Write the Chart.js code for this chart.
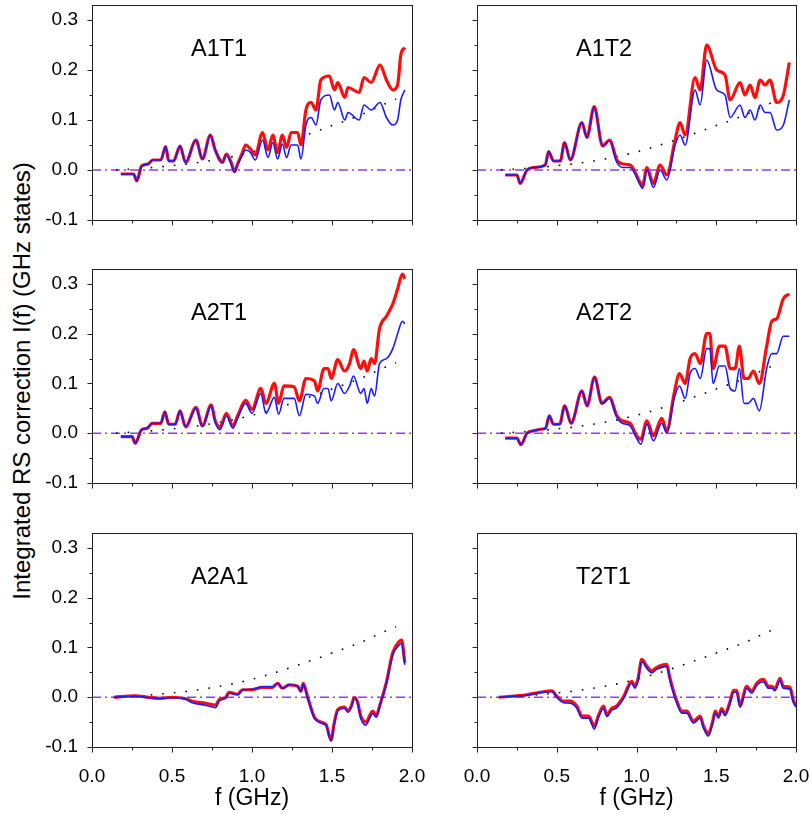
<!DOCTYPE html>
<html>
<head>
<meta charset="utf-8">
<script src="https://cdn.jsdelivr.net/npm/chart.js@4/dist/chart.umd.min.js"></script>
<style>
  body { margin: 0; background: #fff; }
  #wrap { position: relative; width: 811px; height: 814px; overflow: hidden; }
  #wrap canvas { position: absolute; }
  #ytitle {
    position: absolute; left: 22px; top: 381px;
    transform: translate(-50%, -50%) rotate(-90deg);
    font: 24px "Liberation Sans", Arial, sans-serif; line-height: 1;
    white-space: nowrap; color: #000;
  }
</style>
</head>
<body>
<div id="wrap"><div id="ytitle">Integrated RS correction I(f) (GHz states)</div></div>
<script>
// tick values
const xTicks = [0, 0.5, 1.0, 1.5, 2.0];
const xMinor = [0.25, 0.75, 1.25, 1.75];
const yTicks = [-0.1, 0.0, 0.1, 0.2, 0.3];
const yMinor = [-0.05, 0.05, 0.15, 0.25];

// dotted reference curve (same in every panel)
const fRef = [0.15, 0.3, 0.45, 0.6, 0.75, 0.9, 1.0, 1.1, 1.2, 1.3, 1.4, 1.5, 1.6, 1.7, 1.8, 1.9];
const vRef = [0.0, 0.003, 0.007, 0.012, 0.019, 0.028, 0.036, 0.045, 0.055, 0.066, 0.077, 0.089, 0.100, 0.113, 0.128, 0.142];

// A1T1
const fA1T1 = [0.18, 0.26, 0.28, 0.31, 0.35, 0.38, 0.43, 0.46, 0.48, 0.51, 0.55, 0.585, 0.65, 0.69, 0.74, 0.77, 0.815, 0.84, 0.87, 0.89,
  0.91, 0.94, 0.96, 0.99, 1.02, 1.066, 1.10, 1.13, 1.16, 1.19, 1.216, 1.245, 1.285, 1.306, 1.337, 1.37, 1.40, 1.43, 1.484, 1.515,
  1.536, 1.58, 1.60, 1.67, 1.70, 1.745, 1.80, 1.84, 1.88, 1.91, 1.93, 1.955];
const rA1T1 = [-0.008, -0.008, -0.022, 0.008, 0.012, 0.02, 0.02, 0.047, 0.018, 0.018, 0.048, 0.015, 0.06, 0.022, 0.07, 0.04, 0.015, 0.032, 0.015, -0.003,
  0.012, 0.035, 0.05, 0.042, 0.03, 0.075, 0.04, 0.07, 0.035, 0.07, 0.045, 0.075, 0.075, 0.05, 0.12, 0.135, 0.12, 0.18, 0.188, 0.16,
  0.175, 0.145, 0.165, 0.155, 0.185, 0.175, 0.21, 0.18, 0.16, 0.17, 0.23, 0.245];
const bA1T1 = [-0.008, -0.008, -0.022, 0.008, 0.012, 0.02, 0.02, 0.047, 0.018, 0.018, 0.048, 0.015, 0.06, 0.022, 0.07, 0.04, 0.015, 0.03, 0.012, -0.005,
  0.01, 0.03, 0.04, 0.035, 0.02, 0.06, 0.025, 0.055, 0.022, 0.052, 0.025, 0.05, 0.05, 0.022, 0.09, 0.105, 0.09, 0.14, 0.15, 0.12,
  0.135, 0.10, 0.115, 0.10, 0.13, 0.12, 0.135, 0.105, 0.09, 0.10, 0.14, 0.16];

// A1T2
const fA1T2 = [0.177, 0.25, 0.271, 0.313, 0.355, 0.428, 0.449, 0.48, 0.522, 0.549, 0.585, 0.658, 0.689, 0.735, 0.787, 0.831, 0.877, 0.914, 0.96, 1.023,
  1.038, 1.065, 1.106, 1.148, 1.19, 1.242, 1.273, 1.305, 1.367, 1.399, 1.44, 1.503, 1.555, 1.587, 1.649, 1.68, 1.712, 1.743, 1.775, 1.806,
  1.837, 1.879, 1.921, 1.958];
const rA1T2 = [-0.01, -0.01, -0.027, 0.0, 0.005, 0.01, 0.037, 0.018, 0.018, 0.055, 0.02, 0.095, 0.065, 0.127, 0.048, 0.06, 0.02, 0.012, 0.01, -0.025,
  -0.032, 0.005, -0.027, 0.01, -0.01, 0.06, 0.095, 0.07, 0.185, 0.16, 0.25, 0.2, 0.19, 0.14, 0.175, 0.15, 0.17, 0.145, 0.18, 0.17,
  0.18, 0.135, 0.15, 0.215];
const bA1T2 = [-0.01, -0.01, -0.027, 0.0, 0.005, 0.01, 0.037, 0.018, 0.018, 0.055, 0.02, 0.095, 0.065, 0.127, 0.048, 0.058, 0.015, 0.005, 0.005, -0.03,
  -0.037, 0.0, -0.035, 0.0, -0.02, 0.05, 0.07, 0.05, 0.16, 0.13, 0.22, 0.16, 0.15, 0.105, 0.13, 0.105, 0.12, 0.10, 0.13, 0.115,
  0.115, 0.08, 0.09, 0.14];

// A2T1
const fA2T1 = [0.18, 0.25, 0.27, 0.31, 0.345, 0.376, 0.43, 0.455, 0.48, 0.52, 0.55, 0.585, 0.65, 0.69, 0.745, 0.77, 0.80, 0.84, 0.88, 0.91,
  0.96, 1.0, 1.055, 1.087, 1.14, 1.166, 1.2, 1.264, 1.296, 1.337, 1.39, 1.41, 1.45, 1.475, 1.495, 1.536, 1.578, 1.61, 1.634, 1.68,
  1.70, 1.72, 1.745, 1.766, 1.797, 1.84, 1.88, 1.91, 1.94, 1.955];
const rA2T1 = [-0.007, -0.007, -0.02, 0.007, 0.01, 0.02, 0.02, 0.043, 0.018, 0.018, 0.045, 0.013, 0.052, 0.015, 0.057, 0.025, 0.012, 0.04, 0.015, 0.035,
  0.066, 0.048, 0.09, 0.06, 0.1, 0.06, 0.095, 0.093, 0.065, 0.11, 0.105, 0.085, 0.13, 0.13, 0.11, 0.148, 0.125, 0.14, 0.168, 0.13,
  0.145, 0.125, 0.15, 0.14, 0.21, 0.235, 0.26, 0.29, 0.32, 0.31];
const bA2T1 = [-0.007, -0.007, -0.02, 0.007, 0.01, 0.02, 0.02, 0.043, 0.018, 0.018, 0.045, 0.013, 0.05, 0.013, 0.055, 0.022, 0.007, 0.035, 0.01, 0.03,
  0.06, 0.04, 0.08, 0.04, 0.072, 0.038, 0.07, 0.07, 0.035, 0.078, 0.075, 0.06, 0.09, 0.09, 0.065, 0.10, 0.08, 0.095, 0.115, 0.08,
  0.09, 0.06, 0.09, 0.075, 0.14, 0.15, 0.17, 0.2, 0.225, 0.22];

// A2T2
const fA2T2 = [0.177, 0.25, 0.275, 0.313, 0.355, 0.40, 0.43, 0.453, 0.48, 0.518, 0.55, 0.59, 0.658, 0.69, 0.737, 0.783, 0.83, 0.877, 0.91, 0.96,
  1.0, 1.027, 1.065, 1.106, 1.158, 1.19, 1.236, 1.27, 1.305, 1.336, 1.367, 1.40, 1.44, 1.46, 1.48, 1.52, 1.555, 1.587, 1.618, 1.645,
  1.674, 1.70, 1.733, 1.77, 1.816, 1.848, 1.879, 1.92, 1.958];
const rA2T2 = [-0.01, -0.01, -0.023, 0.0, 0.005, 0.008, 0.01, 0.035, 0.018, 0.018, 0.055, 0.02, 0.085, 0.055, 0.113, 0.06, 0.072, 0.035, 0.025, 0.02,
  -0.005, -0.012, 0.025, -0.005, 0.03, 0.005, 0.08, 0.12, 0.1, 0.15, 0.16, 0.14, 0.2, 0.2, 0.13, 0.175, 0.175, 0.13, 0.13, 0.175,
  0.11, 0.11, 0.125, 0.1, 0.175, 0.225, 0.23, 0.27, 0.28];
const bA2T2 = [-0.01, -0.01, -0.023, 0.0, 0.005, 0.008, 0.01, 0.035, 0.018, 0.018, 0.055, 0.02, 0.085, 0.055, 0.113, 0.06, 0.07, 0.032, 0.02, 0.015,
  -0.01, -0.022, 0.018, -0.015, 0.02, 0.0, 0.07, 0.095, 0.07, 0.12, 0.13, 0.11, 0.17, 0.17, 0.1, 0.135, 0.135, 0.09, 0.085, 0.13,
  0.06, 0.06, 0.07, 0.045, 0.13, 0.16, 0.16, 0.195, 0.195];

// A2A1
const fA2A1 = [0.136, 0.27, 0.355, 0.42, 0.50, 0.585, 0.627, 0.71, 0.773, 0.794, 0.836, 0.857, 0.91, 0.94, 1.0, 1.066, 1.128, 1.16, 1.19, 1.233,
  1.285, 1.306, 1.32, 1.348, 1.39, 1.43, 1.463, 1.494, 1.515, 1.536, 1.578, 1.60, 1.62, 1.64, 1.66, 1.68, 1.71, 1.755, 1.776, 1.797,
  1.84, 1.88, 1.92, 1.935, 1.955];
const rA2A1 = [0.0, 0.003, 0.0, -0.002, 0.0, -0.003, -0.008, -0.012, -0.016, -0.005, 0.0, 0.01, 0.006, 0.015, 0.015, 0.02, 0.02, 0.028, 0.018, 0.025,
  0.022, 0.012, 0.028, 0.0, -0.04, -0.05, -0.055, -0.086, -0.05, -0.025, -0.02, -0.028, -0.018, 0.0, -0.01, -0.038, -0.05, -0.028, -0.038, -0.018,
  0.03, 0.09, 0.112, 0.115, 0.07];
const bA2A1 = [0.0, 0.002, -0.001, -0.003, -0.001, -0.004, -0.011, -0.016, -0.021, -0.008, -0.002, 0.008, 0.005, 0.014, 0.016, 0.021, 0.021, 0.028, 0.018, 0.025,
  0.022, 0.011, 0.026, -0.002, -0.042, -0.052, -0.057, -0.088, -0.052, -0.027, -0.022, -0.03, -0.02, -0.002, -0.012, -0.042, -0.056, -0.033, -0.04, -0.02,
  0.028, 0.085, 0.105, 0.108, 0.065];

// T2T1
const fT2T1 = [0.136, 0.313, 0.397, 0.47, 0.50, 0.543, 0.585, 0.626, 0.658, 0.70, 0.735, 0.762, 0.793, 0.814, 0.845, 0.873, 0.92, 0.97, 0.99, 1.01,
  1.033, 1.065, 1.096, 1.127, 1.19, 1.207, 1.232, 1.253, 1.284, 1.315, 1.357, 1.399, 1.42, 1.45, 1.478, 1.493, 1.514, 1.534, 1.555, 1.587,
  1.608, 1.628, 1.649, 1.691, 1.722, 1.754, 1.795, 1.827, 1.848, 1.868, 1.9, 1.92, 1.962, 1.983, 2.0];
const rT2T1 = [0.0, 0.005, 0.01, 0.013, 0.002, -0.008, -0.008, -0.018, -0.038, -0.038, -0.058, -0.036, -0.018, -0.035, -0.022, -0.018, 0.002, 0.032, 0.022, 0.038,
  0.076, 0.062, 0.053, 0.06, 0.066, 0.042, 0.012, -0.008, -0.028, -0.028, -0.048, -0.038, -0.058, -0.073, -0.048, -0.028, -0.038, -0.023, -0.033, -0.008,
  0.014, 0.014, -0.016, 0.022, 0.012, 0.028, 0.036, 0.022, 0.022, 0.017, 0.038, 0.022, 0.02, -0.006, -0.016];
const bT2T1 = [0.0, 0.004, 0.009, 0.011, 0.0, -0.011, -0.012, -0.022, -0.042, -0.042, -0.064, -0.04, -0.022, -0.039, -0.026, -0.022, -0.002, 0.028, 0.018, 0.034,
  0.072, 0.058, 0.049, 0.056, 0.062, 0.038, 0.008, -0.012, -0.032, -0.032, -0.052, -0.042, -0.062, -0.078, -0.052, -0.032, -0.042, -0.027, -0.037, -0.012,
  0.01, 0.01, -0.02, 0.018, 0.008, 0.024, 0.031, 0.018, 0.018, 0.013, 0.034, 0.018, 0.016, -0.01, -0.02];

const panels = [
  { name: 'A1T1', f: fA1T1, red: rA1T1, blue: bA1T1, col: 0, row: 0 },
  { name: 'A1T2', f: fA1T2, red: rA1T2, blue: bA1T2, col: 1, row: 0 },
  { name: 'A2T1', f: fA2T1, red: rA2T1, blue: bA2T1, col: 0, row: 1 },
  { name: 'A2T2', f: fA2T2, red: rA2T2, blue: bA2T2, col: 1, row: 1 },
  { name: 'A2A1', f: fA2A1, red: rA2A1, blue: bA2A1, col: 0, row: 2 },
  { name: 'T2T1', f: fT2T1, red: rT2T1, blue: bT2T1, col: 1, row: 2 }
];

// canvas boxes, chosen so the plot areas land where the reference has them
const colBox = [
  { left: 0, width: 440, axisW: 92, padR: 28 },
  { left: 430, width: 381, axisW: 47, padR: 15 }
];
const rowBox = [
  { top: 0, height: 250, padT: 5, axisH: 10, padB: 20 },
  { top: 250, height: 260, padT: 19, axisH: 10, padB: 17 },
  { top: 510, height: 304, padT: 23, axisH: 67, padB: 0 }
];

const FONT = '"Liberation Sans", Arial, Helvetica, sans-serif';

// box, ticks and panel name
const framePlugin = {
  id: 'frame',
  afterDatasetsDraw(chart, args, opts) {
    const { ctx, chartArea: a, scales: { x, y } } = chart;
    ctx.save();
    ctx.strokeStyle = '#222';
    ctx.lineWidth = 1;
    ctx.strokeRect(Math.round(a.left) + 0.5, Math.round(a.top) + 0.5,
      Math.round(a.right - a.left), Math.round(a.bottom - a.top));
    const b = Math.round(a.bottom) + 0.5;
    const l = Math.round(a.left) + 0.5;
    ctx.beginPath();
    xTicks.forEach(v => { const px = Math.round(x.getPixelForValue(v)) + 0.5; ctx.moveTo(px, b); ctx.lineTo(px, b + 5); });
    xMinor.forEach(v => { const px = Math.round(x.getPixelForValue(v)) + 0.5; ctx.moveTo(px, b); ctx.lineTo(px, b + 3); });
    yTicks.forEach(v => { const py = Math.round(y.getPixelForValue(v)) + 0.5; ctx.moveTo(l, py); ctx.lineTo(l - 5, py); });
    yMinor.forEach(v => { const py = Math.round(y.getPixelForValue(v)) + 0.5; ctx.moveTo(l, py); ctx.lineTo(l - 3, py); });
    ctx.stroke();
    ctx.fillStyle = '#000';
    ctx.font = '23.5px ' + FONT;
    ctx.textBaseline = 'alphabetic';
    ctx.fillText(opts.label, a.left + 99, a.top + 51);
    ctx.restore();
  }
};

const wrap = document.getElementById('wrap');

panels.forEach(p => {
  const c = colBox[p.col], r = rowBox[p.row];
  const cv = document.createElement('canvas');
  cv.width = c.width; cv.height = r.height;
  cv.style.left = c.left + 'px'; cv.style.top = r.top + 'px';
  cv.style.width = c.width + 'px'; cv.style.height = r.height + 'px';
  wrap.appendChild(cv);

  const pts = arr => p.f.map((f, i) => ({ x: f, y: arr[i] }));

  new Chart(cv.getContext('2d'), {
    type: 'line',
    data: {
      datasets: [
        { data: pts(p.blue), borderColor: '#1a1aff', borderWidth: 1.6, cubicInterpolationMode: 'monotone' },
        { data: pts(p.red), borderColor: '#ff0d0d', borderWidth: 3.2, cubicInterpolationMode: 'monotone' },
        { data: fRef.map((f, i) => ({ x: f, y: vRef[i] })), borderColor: '#000', borderWidth: 1.6, borderDash: [1.6, 10] },
        { data: [{ x: xTicks[0], y: 0 }, { x: xTicks[xTicks.length - 1], y: 0 }], borderColor: '#8a3ff0', borderWidth: 1.5, borderDash: [9, 4, 2, 4] }
      ]
    },
    options: {
      responsive: false,
      animation: false,
      devicePixelRatio: 1,
      layout: { padding: { left: 0, top: r.padT, right: c.padR, bottom: r.padB } },
      elements: { point: { radius: 0 }, line: { tension: 0, fill: false } },
      plugins: { legend: { display: false }, tooltip: { enabled: false }, frame: { label: p.name } },
      scales: {
        x: {
          type: 'linear', min: 0, max: 2,
          grid: { display: false }, border: { display: false },
          afterBuildTicks: s => { s.ticks = xTicks.map(v => ({ value: v })); },
          afterFit: s => { s.height = r.axisH; s.paddingLeft = 0; s.paddingRight = 0; },
          ticks: {
            display: p.row === 2, padding: 10, color: '#000',
            font: { family: FONT, size: 19 },
            maxRotation: 0, autoSkip: false,
            callback: v => v.toFixed(1)
          },
          title: {
            display: p.row === 2, text: 'f (GHz)', color: '#000',
            font: { family: FONT, size: 23 }, padding: { top: 0, bottom: 2 }
          }
        },
        y: {
          type: 'linear', min: -0.1, max: 0.33,
          grid: { display: false }, border: { display: false },
          afterBuildTicks: s => { s.ticks = yTicks.map(v => ({ value: v })); },
          afterFit: s => { s.width = c.axisW; s.paddingTop = 0; s.paddingBottom = 0; },
          ticks: {
            display: p.col === 0, padding: 6, color: '#000',
            font: { family: FONT, size: 19 },
            autoSkip: false,
            callback: v => v.toFixed(1)
          }
        }
      }
    },
    plugins: [framePlugin]
  });
});
</script>
</body>
</html>
